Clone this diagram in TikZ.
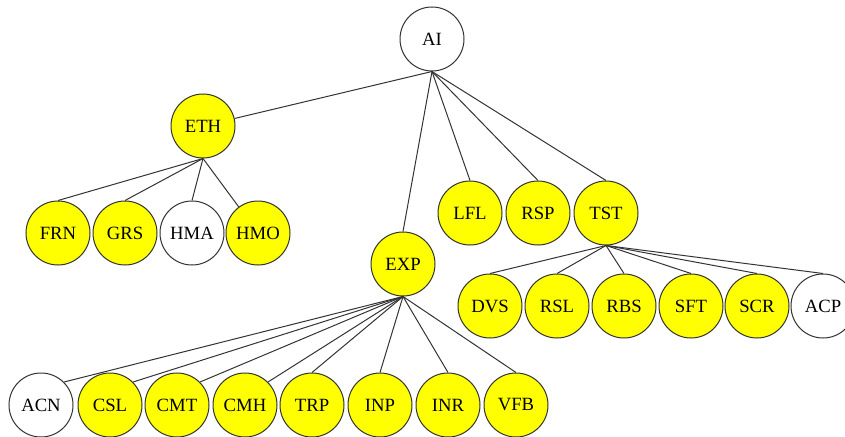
\documentclass[tikz,border=0pt]{standalone}
\usepackage{fontspec}
\setmainfont{Liberation Serif}
\definecolor{nodeyellow}{HTML}{FFFF00}
\definecolor{edgegray}{HTML}{333333}
\begin{document}
\begin{tikzpicture}[x=1pt,y=-1pt,
  nd/.style={circle,draw=edgegray,line width=1pt,minimum size=64pt,inner sep=0pt,font=\fontsize{18.7}{20}\selectfont},
  yl/.style={nd,fill=nodeyellow},
  wt/.style={nd,fill=white},
  edge/.style={draw=edgegray,line width=1pt}]
\useasboundingbox (0,0) rectangle (845,436);
\clip (0,0) rectangle (845,436);
\node[wt] (AI) at (432,39) {AI};
\node[yl] (ETH) at (203,126) {ETH};
\node[yl] (FRN) at (58,233) {FRN};
\node[yl] (GRS) at (125,233) {GRS};
\node[wt] (HMA) at (192,233) {HMA};
\node[yl] (HMO) at (258,233) {HMO};
\node[yl] (EXP) at (403,264) {EXP};
\node[yl] (LFL) at (470,213) {LFL};
\node[yl] (RSP) at (538,213) {RSP};
\node[yl] (TST) at (606,213) {TST};
\node[yl] (DVS) at (490,306) {DVS};
\node[yl] (RSL) at (557,306) {RSL};
\node[yl] (RBS) at (624,306) {RBS};
\node[yl] (SFT) at (691,306) {SFT};
\node[yl] (SCR) at (757,306) {SCR};
\node[wt] (ACP) at (823,306) {ACP};
\node[wt] (ACN) at (41,405) {ACN};
\node[yl] (CSL) at (110,405) {CSL};
\node[yl] (CMT) at (177,405) {CMT};
\node[yl] (CMH) at (245,405) {CMH};
\node[yl] (TRP) at (312,405) {TRP};
\node[yl] (INP) at (380,405) {INP};
\node[yl] (INR) at (448,405) {INR};
\node[yl] (VFB) at (516,405) {VFB};
\draw[edge] (AI.south) -- (ETH);
\draw[edge] (AI.south) -- (EXP.north);
\draw[edge] (AI.south) -- (LFL.north);
\draw[edge] (AI.south) -- (RSP.north);
\draw[edge] (AI.south) -- (TST.north);
\draw[edge] (ETH.south) -- (FRN.north);
\draw[edge] (ETH.south) -- (GRS.north);
\draw[edge] (ETH.south) -- (HMA.north);
\draw[edge] (ETH.south) -- (HMO);
\draw[edge] (EXP.south) -- (ACN.north east);
\draw[edge] (EXP.south) -- (CSL.north east);
\draw[edge] (EXP.south) -- (CMT.north east);
\draw[edge] (EXP.south) -- (CMH.north east);
\draw[edge] (EXP.south) -- (TRP.north);
\draw[edge] (EXP.south) -- (INP.north);
\draw[edge] (EXP.south) -- (INR.north);
\draw[edge] (EXP.south) -- (VFB.north);
\draw[edge] (TST.south) -- (DVS.north);
\draw[edge] (TST.south) -- (RSL.north);
\draw[edge] (TST.south) -- (RBS.north);
\draw[edge] (TST.south) -- (SFT.north);
\draw[edge] (TST.south) -- (SCR.north);
\draw[edge] (TST.south) -- (ACP.north);
\end{tikzpicture}
\end{document}
